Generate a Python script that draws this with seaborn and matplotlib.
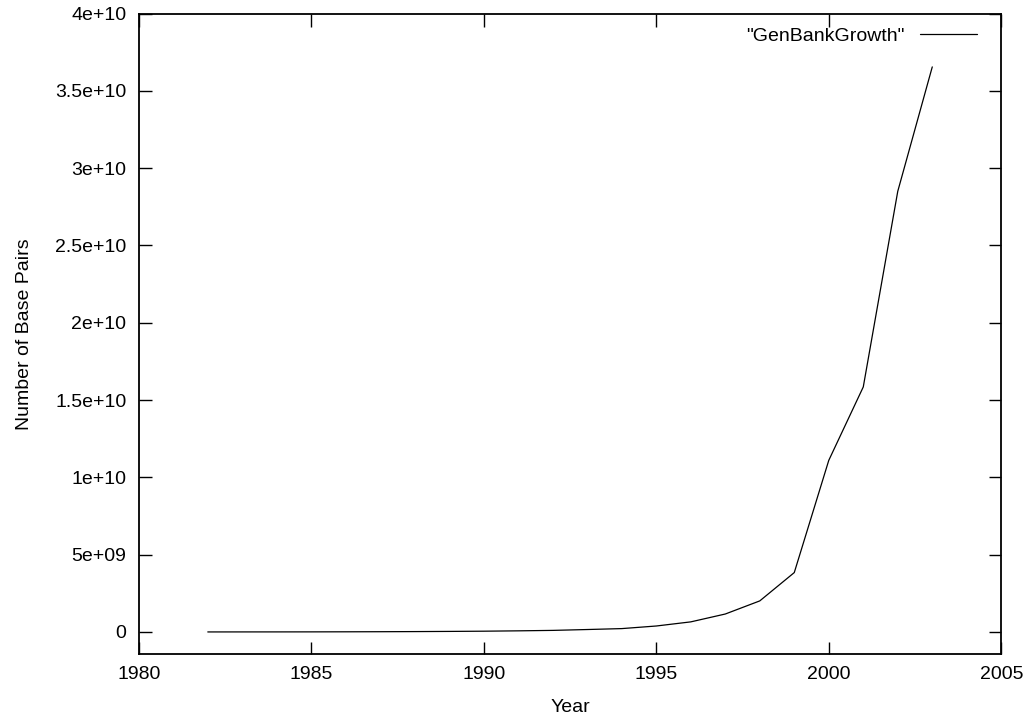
import pandas as pd
import numpy as np
import matplotlib.pyplot as plt
import matplotlib.ticker as mticker
import seaborn as sns

sns.set_style('ticks')
plt.rcParams['font.family'] = ['Liberation Sans', 'DejaVu Sans']

years = [1982, 1983, 1984, 1985, 1986, 1987, 1988, 1989, 1990, 1991, 1992,
         1993, 1994, 1995, 1996, 1997, 1998, 1999, 2000, 2001, 2002, 2003]
base_pairs = [680338, 2274029, 3368765, 5204420, 9615371, 15514776, 23800000,
              34762585, 49179285, 71947426, 101008486, 157152442, 217102462,
              384939485, 651972984, 1160300687, 2008761784, 3841163011,
              11101066288, 15849921438, 28507990166, 36553368485]

df = pd.DataFrame({'Year': years, 'Base Pairs': base_pairs})

fig, ax = plt.subplots(figsize=(10.28, 7.17), dpi=100)
fig.subplots_adjust(left=0.135, right=0.974, top=0.981, bottom=0.088)

sns.lineplot(data=df, x='Year', y='Base Pairs', color='black', linewidth=0.9,
             label='"GenBankGrowth"', ax=ax)

ax.set_xlim(1980, 2005)
ax.set_ylim(-1.42e9, 4e10)
ax.xaxis.set_major_locator(mticker.MultipleLocator(5))
ax.yaxis.set_major_locator(mticker.MultipleLocator(5e9))
ax.yaxis.set_major_formatter(mticker.FuncFormatter(lambda v, p: '%g' % v))
ax.tick_params(direction='in', length=9, width=1, top=True, right=True,
               labelsize=14, pad=9, colors='black')
for s in ax.spines.values():
    s.set_linewidth(1.3)
    s.set_color('black')

ax.set_xlabel('Year', fontsize=14, color='black', labelpad=11)
ax.set_ylabel('Number of Base Pairs', fontsize=14, color='black', labelpad=16)

# gnuplot style key: label first, sample line after it
leg = ax.legend(loc='upper right', frameon=False, markerfirst=False,
                fontsize=14, handlelength=2.95, handletextpad=0.8,
                borderaxespad=0.3, bbox_to_anchor=(0.988, 1.0))
for t in leg.get_texts():
    t.set_color('black')

plt.savefig('out.png', dpi=100)
